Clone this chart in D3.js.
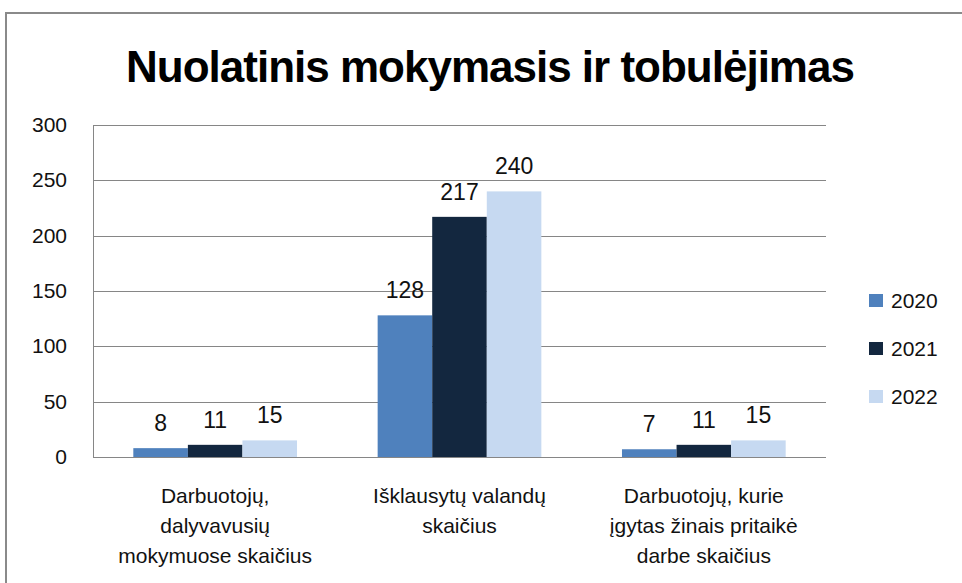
<!DOCTYPE html>
<html>
<head>
<meta charset="utf-8">
<script src="https://cdn.jsdelivr.net/npm/d3@7"></script>
<style>
  body { margin: 0; background: #fff; }
  svg { display: block; font-family: 'Liberation Sans', Arial, sans-serif; }
</style>
</head>
<body>
<div id="chart"></div>
<script>
// data
const categories = [
  ['Darbuotojų,', 'dalyvavusių', 'mokymuose skaičius'],
  ['Išklausytų valandų', 'skaičius'],
  ['Darbuotojų, kurie', 'įgytas žinais pritaikė', 'darbe skaičius']
];
const years = ['2020', '2021', '2022'];
const values2020 = [8, 128, 7];
const values2021 = [11, 217, 11];
const values2022 = [15, 240, 15];
const yTicks = [0, 50, 100, 150, 200, 250, 300];
const colors = ['#4f81bd', '#13273f', '#c6d9f1'];

const series = [values2020, values2021, values2022];

const width = 962, height = 583;
const plot = { left: 93, right: 826, top: 125, bottom: 457 };

const svg = d3.select('#chart').append('svg')
  .attr('width', width)
  .attr('height', height);

// outer chart border
svg.append('path')
  .attr('d', `M6,${height + 5}V13H${width + 5}`)
  .attr('fill', 'none')
  .attr('stroke', '#8a8a8a')
  .attr('stroke-width', 2);

// title
svg.append('text')
  .attr('x', 490)
  .attr('y', 82)
  .attr('text-anchor', 'middle')
  .style('font-size', '44px')
  .style('font-weight', 'bold')
  .style('letter-spacing', '-1px')
  .text('Nuolatinis mokymasis ir tobulėjimas');

const x0 = d3.scaleBand()
  .domain(d3.range(categories.length))
  .range([plot.left, plot.right])
  .paddingInner(0)
  .paddingOuter(0);

const groupPad = 0.33;
const x1 = d3.scaleBand()
  .domain(d3.range(years.length))
  .range([x0.bandwidth() * groupPad / 2, x0.bandwidth() * (1 - groupPad / 2)]);

const y = d3.scaleLinear().domain([0, 300]).range([plot.bottom, plot.top]);

// gridlines
svg.append('g')
  .selectAll('line')
  .data(yTicks.filter(d => d > 0))
  .join('line')
  .attr('x1', plot.left)
  .attr('x2', plot.right)
  .attr('y1', d => Math.round(y(d)) + 0.5)
  .attr('y2', d => Math.round(y(d)) + 0.5)
  .attr('stroke', '#868686')
  .attr('stroke-width', 1);

// left axis line
svg.append('line')
  .attr('x1', plot.left + 0.5)
  .attr('x2', plot.left + 0.5)
  .attr('y1', plot.top)
  .attr('y2', plot.bottom)
  .attr('stroke', '#868686');

// y tick labels
svg.append('g')
  .selectAll('text')
  .data(yTicks)
  .join('text')
  .attr('x', 67)
  .attr('y', d => y(d) + 7)
  .attr('text-anchor', 'end')
  .style('font-size', '21px')
  .attr('fill', '#111')
  .text(d => d);

// bars
const groups = svg.append('g')
  .selectAll('g')
  .data(categories.map((c, i) => i))
  .join('g')
  .attr('transform', i => `translate(${x0(i)},0)`);

groups.selectAll('rect')
  .data(i => series.map((s, k) => ({ k, v: s[i] })))
  .join('rect')
  .attr('x', d => x1(d.k))
  .attr('width', x1.bandwidth())
  .attr('y', d => y(d.v))
  .attr('height', d => y(0) - y(d.v))
  .attr('fill', d => colors[d.k]);

groups.selectAll('text.lbl')
  .data(i => series.map((s, k) => ({ k, v: s[i] })))
  .join('text')
  .attr('class', 'lbl')
  .attr('x', d => x1(d.k) + x1.bandwidth() / 2)
  .attr('y', d => y(d.v) - 17)
  .attr('text-anchor', 'middle')
  .style('font-size', '23px')
  .attr('fill', '#111')
  .text(d => d.v);

// baseline axis
svg.append('line')
  .attr('x1', plot.left)
  .attr('x2', plot.right)
  .attr('y1', plot.bottom + 0.5)
  .attr('y2', plot.bottom + 0.5)
  .attr('stroke', '#868686');

// category labels
const catLabels = svg.append('g')
  .selectAll('text')
  .data(categories)
  .join('text')
  .attr('x', (d, i) => x0(i) + x0.bandwidth() / 2)
  .attr('y', 503)
  .attr('text-anchor', 'middle')
  .style('font-size', '21px')
  .attr('fill', '#111');

catLabels.selectAll('tspan')
  .data(d => d)
  .join('tspan')
  .attr('x', function () { return this.parentNode.getAttribute('x'); })
  .attr('dy', (d, i) => (i === 0 ? 0 : 30))
  .text(d => d);

// legend
const legend = svg.append('g')
  .selectAll('g')
  .data(years)
  .join('g')
  .attr('transform', (d, i) => `translate(869,${294 + i * 48})`);

legend.append('rect')
  .attr('width', 14)
  .attr('height', 13)
  .attr('fill', (d, i) => colors[i]);

legend.append('text')
  .attr('x', 22)
  .attr('y', 14)
  .style('font-size', '21px')
  .attr('fill', '#111')
  .text(d => d);
</script>
</body>
</html>
